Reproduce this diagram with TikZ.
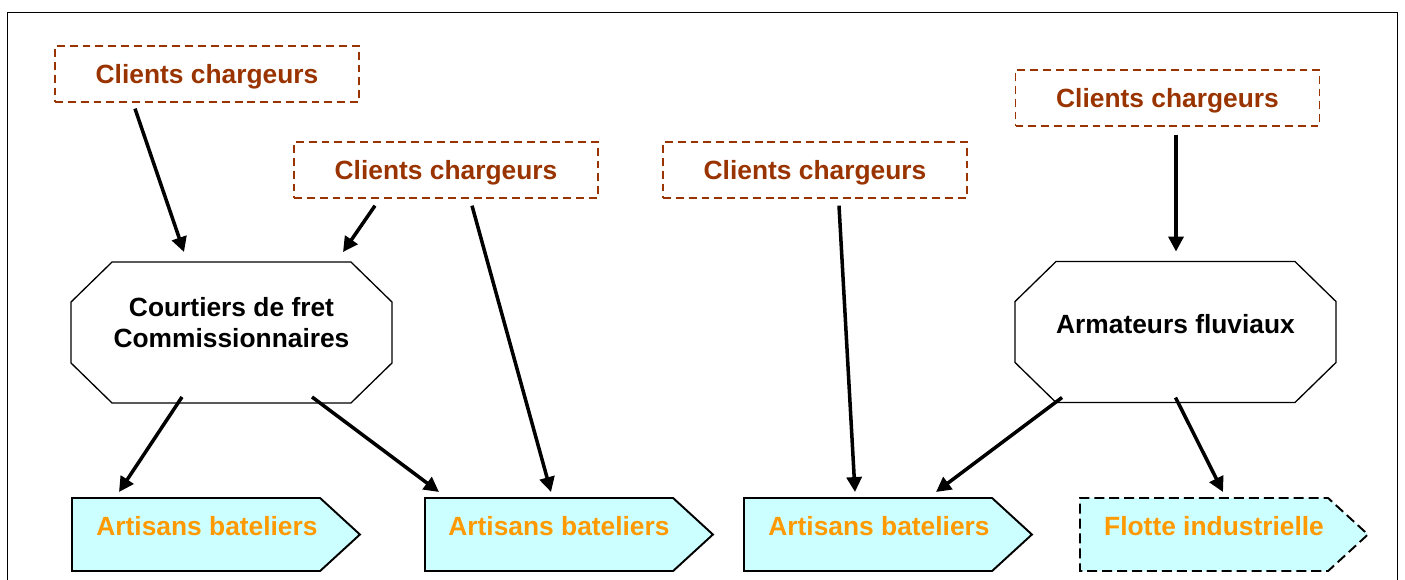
\documentclass[tikz,border=0pt]{standalone}
\usepackage{fontspec}
\setmainfont{Liberation Sans}
\usetikzlibrary{shapes.symbols,arrows.meta}
\definecolor{brique}{HTML}{993300}
\definecolor{orangeb}{HTML}{FF9900}
\definecolor{cyanpale}{HTML}{CCFFFF}
% octogone trace sur les coins d'un noeud rectangle
\newcommand\octogone[1]{%
  \draw[line width=0.75pt] ([shift={(41,0)}]#1.north west) -- ([shift={(-41,0)}]#1.north east)
  -- ([shift={(0,40)}]#1.north east) -- ([shift={(0,-40)}]#1.south east)
  -- ([shift={(-41,0)}]#1.south east) -- ([shift={(41,0)}]#1.south west)
  -- ([shift={(0,-40)}]#1.south west) -- ([shift={(0,40)}]#1.north west) -- cycle;}
\begin{document}
\begin{tikzpicture}[x=0.02cm, y=-0.02cm,
    gras/.style={font=\fontsize{15}{17.6}\selectfont\bfseries},
    client/.style={gras, draw=brique, dash pattern=on 4.5pt off 2.8pt, text depth=0pt,
      line width=0.75pt, minimum width=6.08cm, minimum height=1.12cm, text=brique},
    octo/.style={rectangle, outer sep=0pt, minimum width=6.42cm, minimum height=2.82cm},
    octtext/.style={gras, align=center, inner sep=0pt},
    bateau/.style={signal, signal to=east, signal pointer angle=85, draw,
      fill=cyanpale, line width=1.1pt, minimum width=5.76cm, minimum height=1.46cm,
      anchor=west},
    battext/.style={gras, text=orangeb, inner sep=0pt},
    fleche/.style={-{Triangle[length=8.5pt,width=8.5pt]}, line width=2pt}]
    % Cadre
    \useasboundingbox (0,0) rectangle (1405,579);
    \clip (0,0) rectangle (1405,579);
    \draw[line width=1.1pt] (7.5,12.5) rectangle (1397.5,640);

    % Clients chargeurs
    \node[client] (cli1) at (207,74) {Clients chargeurs};
    \node[client] (cli2) at (446,170) {Clients chargeurs};
    \node[client] (cli3) at (815,170) {Clients chargeurs};
    \node[client] (cli4) at (1167.5,98) {Clients chargeurs};

    % Intermediaires
    \node[octo] (courtiers) at (231.5,332.5) {};
    \octogone{courtiers}
    \node[octtext] (courtiersTxt) at ([shift={(0,-10)}]courtiers.center)
    {Courtiers de fret\\Commissionnaires};
    \node[octo] (armateurs) at (1175.5,332) {};
    \octogone{armateurs}
    \node[octtext] (armateursTxt) at ([shift={(0,-8)}]armateurs.center)
    {Armateurs fluviaux};

    % Transporteurs
    \node[bateau] (art1) at (71,534.5) {};
    \node[bateau] (art2) at (424,534.5) {};
    \node[bateau] (art3) at (743,534.5) {};
    \node[bateau, dash pattern=on 5.7pt off 2.8pt] (flotte) at (1079,534.5) {};
    \node[battext] (art1Txt) at ([shift={(136,-8.5)}]art1.west) {Artisans bateliers};
    \node[battext] (art2Txt) at ([shift={(135,-8.5)}]art2.west) {Artisans bateliers};
    \node[battext] (art3Txt) at ([shift={(136,-8.5)}]art3.west) {Artisans bateliers};
    \node[battext] (flotteTxt) at ([shift={(135,-8.5)}]flotte.west) {Flotte industrielle};

    % Fleches
    \draw[fleche] ([shift={(-72,6)}]cli1.south) -- ([shift={(-47.5,-10)}]courtiers.north);
    \draw[fleche] ([shift={(-71,7)}]cli2.south) -- ([shift={(111.5,-10)}]courtiers.north);
    \draw[fleche] ([shift={(26,7)}]cli2.south) -- ([shift={(127,-42.5)}]art2.west);
    \draw[fleche] ([shift={(24,7)}]cli3.south) -- ([shift={(112,-42.5)}]art3.west);
    \draw[fleche] ([shift={(8.5,8)}]cli4.south) -- ([shift={(0.5,-10)}]armateurs.north);
    \draw[fleche] ([shift={(-49.5,-6)}]courtiers.south) -- ([shift={(48,-42.5)}]art1.west);
    \draw[fleche] ([shift={(80.5,-6)}]courtiers.south) -- ([shift={(15,-42.5)}]art2.west);
    \draw[fleche] ([shift={(-113.5,-5)}]armateurs.south) -- ([shift={(193,-42.5)}]art3.west);
    \draw[fleche] ([shift={(0,-5)}]armateurs.south) -- ([shift={(144,-42.5)}]flotte.west);
\end{tikzpicture}
\end{document}
